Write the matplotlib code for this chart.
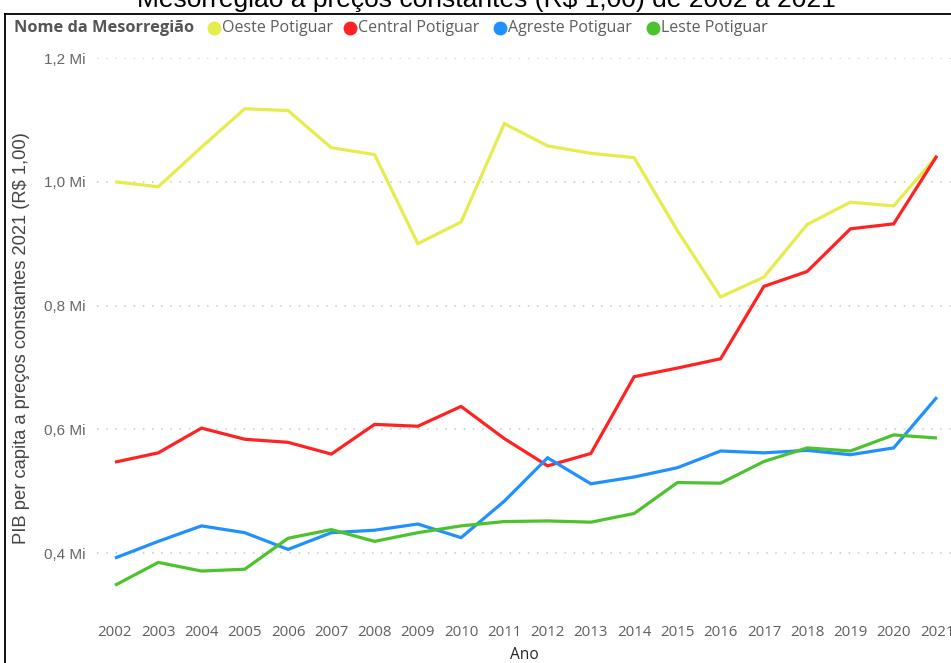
import matplotlib
matplotlib.use("Agg")
import matplotlib.pyplot as plt
from matplotlib.lines import Line2D
import numpy as np

# data (R$ millions -> shown as "Mi")
anos = list(range(2002, 2022))

oeste = [1.000, 0.992, 1.056, 1.118, 1.115, 1.055, 1.044, 0.900, 0.935, 1.094,
         1.058, 1.046, 1.039, 0.921, 0.814, 0.846, 0.931, 0.967, 0.961, 1.042]
central = [0.547, 0.562, 0.602, 0.584, 0.579, 0.560, 0.608, 0.605, 0.637, 0.585,
           0.541, 0.561, 0.685, 0.699, 0.714, 0.831, 0.855, 0.924, 0.932, 1.042]
agreste = [0.392, 0.419, 0.444, 0.433, 0.406, 0.433, 0.437, 0.447, 0.425, 0.484,
           0.554, 0.512, 0.523, 0.538, 0.565, 0.562, 0.566, 0.559, 0.570, 0.652]
leste = [0.348, 0.385, 0.371, 0.374, 0.424, 0.438, 0.419, 0.433, 0.444, 0.451,
         0.452, 0.450, 0.464, 0.514, 0.513, 0.548, 0.570, 0.565, 0.591, 0.586]

nomes = ["Oeste Potiguar", "Central Potiguar", "Agreste Potiguar", "Leste Potiguar"]
series = [oeste, central, agreste, leste]
cores = ["#E6EC4C", "#FF2222", "#2090FF", "#4CC22E"]
yticks = [0.4, 0.6, 0.8, 1.0, 1.2]

W, H = 951, 663
fig = plt.figure(figsize=(W / 100, H / 100), dpi=100)

def fx(px):
    return px / W

def fy(py):
    return 1 - py / H

# plot area in pixels
left_px, right_px, top_px, bot_px = 97, 951, 58, 615
ax = fig.add_axes([fx(left_px), fy(bot_px), fx(right_px - left_px), (bot_px - top_px) / H])

for vals, cor in zip(series, cores):
    ax.plot(anos, vals, color=cor, lw=2.3, solid_capstyle="butt", solid_joinstyle="miter", zorder=3)

ax.set_xlim(2002 - 18 / 43.26, 2002 + (right_px - 115) / 43.26)
ax.set_ylim(0.3, 1.2)
ax.set_yticks(yticks)
ax.set_yticklabels([f"{v:.1f} Mi".replace(".", ",") for v in yticks],
                   fontname="Liberation Sans", fontsize=11, color="#666666")
ax.set_xticks(anos)
ax.set_xticklabels([str(a) for a in anos], fontname="Open Sans", fontsize=10.8, color="#605E5C")
ax.tick_params(axis="both", length=0)
ax.tick_params(axis="y", pad=8)
ax.tick_params(axis="x", pad=7)
ax.grid(axis="y", color="#C8C8C8", linestyle=(0, (1, 5)), lw=1.1)
ax.set_axisbelow(True)
for s in ax.spines.values():
    s.set_visible(False)
ax.patch.set_alpha(0)

ax.set_xlabel("Ano", fontname="Open Sans", fontsize=11.2, color="#252423", labelpad=5)
fig.text(fx(22), fy(338), "PIB per capita a preços constantes 2021 (R$ 1,00)",
         rotation=90, ha="center", va="center", fontname="Liberation Sans",
         fontsize=13.2, color="#444444")

# title, cut off at the top in the reference
fig.text(fx(486), fy(7), "Mesorregião a preços constantes (R$ 1,00) de 2002 a 2021",
         ha="center", va="baseline", fontname="Liberation Sans", fontsize=19, color="#000000")

# frame lines
fig.add_artist(Line2D([fx(5), 1], [fy(14), fy(14)], color="black", lw=1.3))
fig.add_artist(Line2D([fx(5), fx(5)], [fy(14), 0], color="black", lw=1.3))

# legend
fig.text(fx(14), fy(28), "Nome da Mesorregião", ha="left", va="center",
         fontname="Open Sans", fontweight="bold", fontsize=11.8, color="#555555")
marker_x = [214, 350, 500, 653]
for nome, cor, mx in zip(nomes, cores, marker_x):
    fig.add_artist(Line2D([fx(mx)], [fy(28)], marker="o", markersize=9, color=cor, lw=0))
    fig.text(fx(mx + 8), fy(28), nome, ha="left", va="center",
             fontname="Open Sans", fontsize=11.5, color="#605E5C")

fig.savefig("out.png", dpi=100)
